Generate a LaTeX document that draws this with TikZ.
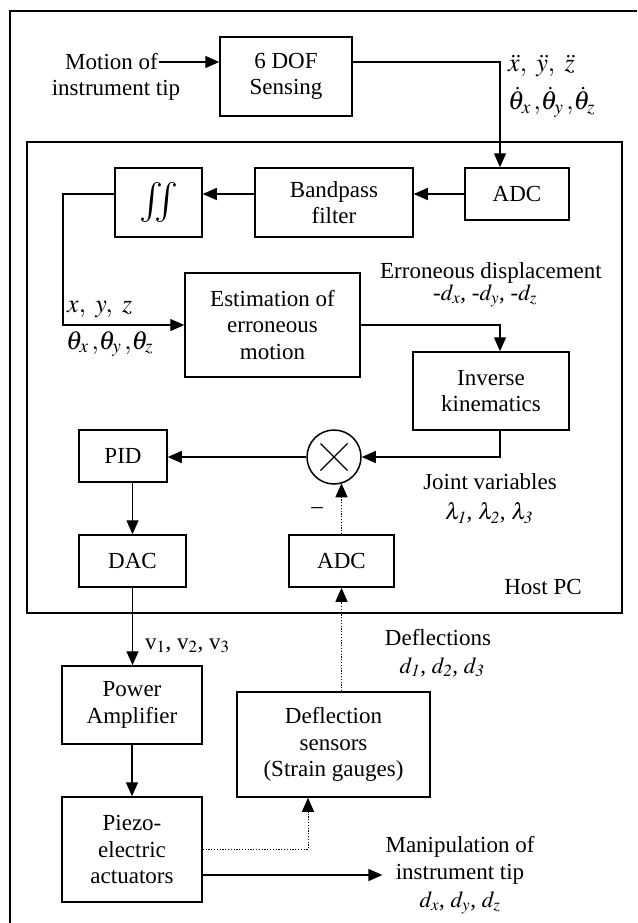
\documentclass[tikz,border=0pt]{standalone}
\usepackage{mathptmx}
\usepackage[no-math]{fontspec}
\setmainfont{Liberation Serif}
\usetikzlibrary{arrows.meta,calc}
\begin{document}
\begin{tikzpicture}[x=1pt,y=-1pt,
  font=\fontsize{23}{26.5}\selectfont,
  box/.style={draw,line width=1.5pt,inner sep=0pt,align=center},
  lbl/.style={inner sep=1pt,align=center},
  mth/.style={anchor=base west,inner sep=0pt,font=\fontsize{26}{28}\selectfont},
  arr/.style={line width=1.4pt,-{Triangle[length=14pt,width=12pt]}},
  ln/.style={line width=1.4pt},
  dotarr/.style={line width=1pt,dash pattern=on 1.2pt off 1.6pt,-{Triangle[length=14pt,width=12pt]}},
  dotln/.style={line width=1pt,dash pattern=on 1.2pt off 1.6pt}]
\useasboundingbox (0,0) rectangle (637,923);
% outer frame (extends beyond the picture)
\draw[line width=1.5pt] (10,923) -- (10,11) -- (637,11);
% host PC frame
\node[draw,line width=1.5pt,minimum width=595pt,minimum height=471pt,inner sep=0pt] (host) at (324.5,377.5) {};
\node[lbl] (hostlbl) at (543,587) {Host PC};

% columns
\coordinate (colA) at (500,0);
\coordinate (colL) at (63,0);
\coordinate (colD) at (308,0);

% top
\node[lbl,anchor=east] (m1) at (159,62) {Motion of};
\node[lbl] (m2) at (116,90) {instrument tip};
\node[box,minimum width=132pt,minimum height=79pt] (dof) at (286,76.5) {6 DOF\\Sensing};
\node[mth] (acc) at (508,72) {$\ddot{x},\ \ddot{y},\ \ddot{z}$};
\node[mth] (angv) at (508,110) {$\dot{\theta}_x\,{,}\dot{\theta}_y\,{,}\dot{\theta}_z$};

% host contents
\node[box,minimum width=104pt,minimum height=52pt] (adc1) at (517,194) {ADC};
\node[box,minimum width=158pt,minimum height=69pt] (bp) at (334,202.5) {Bandpass\\filter};
\node[box,minimum width=87pt,minimum height=69pt] (int) at (158.5,202.5) {\fontsize{40}{40}\selectfont$\int\!\!\!\int$};
\node[box,minimum width=175pt,minimum height=104pt] (est) at (272.5,325) {Estimation of\\erroneous\\motion};
\node[mth] (xyz) at (67,312) {$x,\ y,\ z$};
\node[mth] (th) at (66,349) {$\theta_x\,{,}\theta_y\,{,}\theta_z$};
\node[lbl] (err1) at (491,273) {Erroneous displacement};
\node[lbl] (err2) at (485,296) {$\mbox{-}d_x$, $\mbox{-}d_y$, $\mbox{-}d_z$};
\node[box,minimum width=156pt,minimum height=78pt] (ik) at (491,391) {Inverse\\kinematics};
\node[draw,circle,line width=1.5pt,minimum size=54pt,inner sep=0pt] (sum) at (334,457) {};
\draw[ln] ($(sum.center)+(-13.5,-13.5)$) -- ($(sum.center)+(13.5,13.5)$);
\draw[ln] ($(sum.center)+(-13.5,13.5)$) -- ($(sum.center)+(13.5,-13.5)$);
\node[box,minimum width=88pt,minimum height=52pt] (pid) at (123,456) {PID};
\node[box,minimum width=107pt,minimum height=52pt] (dac) at (132.5,561) {DAC};
\node[box,minimum width=105pt,minimum height=52pt] (adc2) at (341.5,561) {ADC};
\node[lbl] (minus) at (317,511) {–};
\node[lbl] (jv1) at (490,482) {Joint variables};
\node[lbl] (jv2) at (489,513) {$\lambda_{\mathit{1}}$, $\lambda_{\mathit{2}}$, $\lambda_{\mathit{3}}$};

% below host
\node[anchor=base west,inner sep=0pt] (volt) at (145,649) {v$_1$, v$_2$, v$_3$};
\node[lbl] (dfl1) at (438,638) {Deflections};
\node[lbl] (dfl2) at (442,667) {$d_{\mathit{1}}$, $d_{\mathit{2}}$, $d_{\mathit{3}}$};
\node[box,minimum width=140pt,minimum height=78pt] (pa) at (132,705) {Power\\Amplifier};
\node[box,minimum width=140pt,minimum height=105pt] (pz) at (132,849.5) {Piezo-\\electric\\actuators};
\node[box,minimum width=193pt,minimum height=105pt] (sens) at (333.5,744.5) {Deflection\\sensors\\(Strain gauges)};
\node[lbl,font=\fontsize{23}{27.5}\selectfont,inner sep=3pt] (man) at (460,875) {Manipulation of\\instrument tip\\$d_x$, $d_y$, $d_z$};

% connectors
\draw[arr] (m1.east) -- (m1.east -| dof.west);
\draw[arr] (m1.east -| dof.east) -| (adc1.north -| colA);
\draw[arr] (adc1.west) -- (adc1.west -| bp.east);
\draw[arr] (adc1.west -| bp.west) -- (adc1.west -| int.east);
\draw[arr] (adc1.west -| int.west) -- (adc1.west -| colL) |- (est.west);
\draw[arr] (est.east) -| (ik.north -| colA);
\draw[arr] (ik.south -| colA) |- (sum.east);
\draw[arr] (sum.west) -- (sum.west -| pid.east);
\draw[arr] (pid.south -| dac.north) -- (dac.north);
\draw[dotarr] (adc2.north) -- ($(adc2.north |- sum.south)+(0,-1.5)$);
\draw[arr] (dac.south) -- (dac.south |- pa.north);
\draw[arr] (pa.south -| pz.north) -- (pz.north);
\draw[dotarr] (pz.east) -| (sens.south -| colD);
\draw[dotarr] (sens.north -| adc2.south) -- (adc2.south);
\draw[arr] (man.west -| pz.east) -- (man.west);
\end{tikzpicture}
\end{document}
